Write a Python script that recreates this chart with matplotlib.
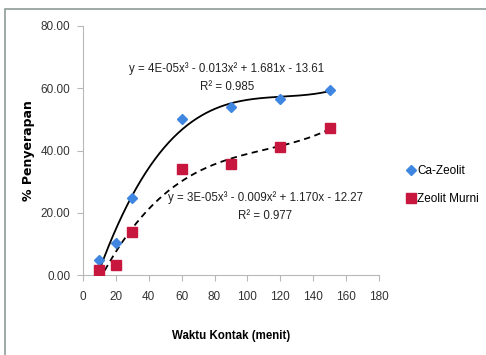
import numpy as np
import matplotlib
matplotlib.use("Agg")
import matplotlib.pyplot as plt
from matplotlib.patches import Rectangle

plt.rcParams['font.family'] = ['Liberation Sans', 'DejaVu Sans']

# data
waktu = [10, 20, 30, 60, 90, 120, 150]
ca_zeolit = [5.0, 10.3, 24.9, 50.0, 54.0, 56.6, 59.4]
zeolit_murni = [1.7, 3.3, 14.0, 34.0, 35.7, 41.2, 47.1]

eq_ca = "y = 4E-05x³ - 0.013x² + 1.681x - 13.61\nR² = 0.985"
eq_murni = "y = 3E-05x³ - 0.009x² + 1.170x - 12.27\nR² = 0.977"

blue = '#3f86e0'
red = '#c8173f'

fig = plt.figure(figsize=(4.86, 3.55), dpi=100)
# outer chart frame
fig.patches.append(Rectangle((5 / 486, -0.1), 1.2, 1 - 9 / 355 + 0.1, transform=fig.transFigure,
                             fill=False, edgecolor='#8f9c9a', linewidth=1.2))
ax = fig.add_axes([83 / 486, 1 - 275.3 / 355, 296 / 486, 249.6 / 355])

# cubic trend lines
xs = np.linspace(min(waktu), max(waktu), 300)
p_ca = np.polyfit(waktu, ca_zeolit, 3)
p_mu = np.polyfit(waktu, zeolit_murni, 3)
ax.plot(xs, np.polyval(p_ca, xs), color='black', lw=1.3, zorder=2)
ax.plot(xs, np.polyval(p_mu, xs), color='black', lw=1.3, ls=(0, (3.5, 2.5)), zorder=2)

ax.plot(waktu, ca_zeolit, 'D', color=blue, markersize=5, mec=blue, label='Ca-Zeolit', zorder=3)
ax.plot(waktu, zeolit_murni, 's', color=red, markersize=7, mec=red, label='Zeolit Murni', zorder=3)

ax.set_xlim(0, 180)
ax.set_ylim(0, 80)
ax.set_xticks(range(0, 181, 20))
ax.set_yticks(range(0, 81, 20))
ax.set_yticklabels(['%.2f' % v for v in range(0, 81, 20)])
for s in ['top', 'right']:
    ax.spines[s].set_visible(False)
for s in ['left', 'bottom']:
    ax.spines[s].set_color('#b8b8b8')
ax.tick_params(axis='both', color='#b8b8b8', length=4, labelsize=8.5, labelcolor='#333333')
ax.tick_params(axis='x', pad=7)
ax.tick_params(axis='y', pad=5)

ax.text(87.5, 63.4, eq_ca, ha='center', va='center', fontsize=8.3, linespacing=1.75, color='#222222')
ax.text(111, 22.0, eq_murni, ha='center', va='center', fontsize=8.3, linespacing=1.75, color='#222222')

ax.set_xlabel('Waktu Kontak (menit)', fontsize=8.3, fontweight='bold', labelpad=20)
ax.set_ylabel('% Penyerapan', fontsize=9, fontweight='bold', family='DejaVu Sans')
ax.yaxis.set_label_coords(-0.163, 0.5)

ax.legend(loc='upper left', bbox_to_anchor=(1.078, 0.465), frameon=False, fontsize=8.5,
          handlelength=0.5, handletextpad=0.3, labelspacing=1.35, borderpad=0)

fig.savefig('out.png', dpi=100)
